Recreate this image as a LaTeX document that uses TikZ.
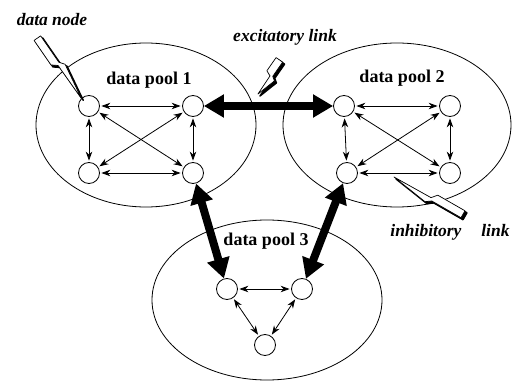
\documentclass[tikz,border=0pt]{standalone}
\usepackage{fontspec}
\setmainfont{Liberation Serif}
\usetikzlibrary{arrows.meta,calc}

% zig-zag callout outline from tail #1 to tip #2, moved by #3
\newcommand{\boltpath}[3]{%
  ($(#1)!0!(#2)!6pt!-90:(#2)+(#3)$) --
  ($(#1)!.40!(#2)!6pt!-90:(#2)+(#3)$) --
  ($(#1)!.46!(#2)!0.5pt!-90:(#2)+(#3)$) --
  ($(#2)+(#3)$) --
  ($(#1)!.50!(#2)!6pt!90:(#2)+(#3)$) --
  ($(#1)!.43!(#2)!2pt!90:(#2)+(#3)$) --
  ($(#1)!0!(#2)!2pt!90:(#2)+(#3)$) -- cycle}
\newcommand{\bolt}[2]{%
  \filldraw[line width=1.4pt, line join=round] \boltpath{#1}{#2}{2pt,-2pt};
  \draw[fill=white, line width=0.7pt, line join=round] \boltpath{#1}{#2}{0pt,0pt};
}

\begin{document}
\begin{tikzpicture}[
  x=1pt, y=1pt,
  font=\fontsize{18}{20}\selectfont\bfseries,
  pool/.style={draw, line width=0.8pt},
  unit/.style={circle, draw, fill=white, line width=0.8pt, minimum size=21pt, inner sep=0pt},
  link/.style={<->, line width=0.8pt, shorten <=1.5pt, shorten >=1.5pt},
  bus/.style={<->, >={Triangle[length=20pt,width=22pt]}, line width=8pt},
  tag/.style={font=\fontsize{17.5}{19}\selectfont\bfseries\itshape},
  >={Stealth[length=9pt,width=6.5pt]}
]
\useasboundingbox (0,0) rectangle (515,381);

% the three pools
\draw[pool] (146,256) ellipse[x radius=110, y radius=82];
\draw[pool] (397,256) ellipse[x radius=114, y radius=82];
\draw[pool] (267,81) ellipse[x radius=115, y radius=80];

\node (l1) at (149,301) {data pool 1};
\node (l2) at (402,303) {data pool 2};
\node (l3) at (266,140) {data pool 3};

% data nodes
\foreach \n/\x/\y in {p1a/89/275, p1b/193/275, p1c/89/208, p1d/193/208,
                      p2a/344/275, p2b/450/275, p2c/347/208, p2d/450/208,
                      p3a/227/92, p3b/302/92, p3c/265/36}
  \node[unit] (\n) at (\x,\y) {};

% links inside each pool
\foreach \p in {1,2}
  \foreach \u/\v in {a/b, a/c, b/d, c/d, a/d, b/c}
    \draw[link] (p\p\u) -- (p\p\v);
\foreach \u/\v in {a/b, a/c, b/c}
  \draw[link] (p3\u) -- (p3\v);

% links between pools
\draw[bus] (p1b) -- (p2a);
\draw[bus] (p1d) -- (p3a);
\draw[bus] (p2c) -- (p3b);

% callouts
\node[tag] (dn) at (52,361) {data node};
\node[tag] (ex) at (285,344) {excitatory link};
\node[tag] (in) at (450,149) {inhibitory\hspace{20pt}link};
\coordinate (dn tail) at (39,344);
\coordinate (ex tail) at (281,320);
\coordinate (ex tip) at (258,287);
\coordinate (in tail) at (462,165);
\coordinate (in tip) at (394,204);
\bolt{dn tail}{p1a.135}
\bolt{ex tail}{ex tip}
\bolt{in tail}{in tip}
\end{tikzpicture}
\end{document}
